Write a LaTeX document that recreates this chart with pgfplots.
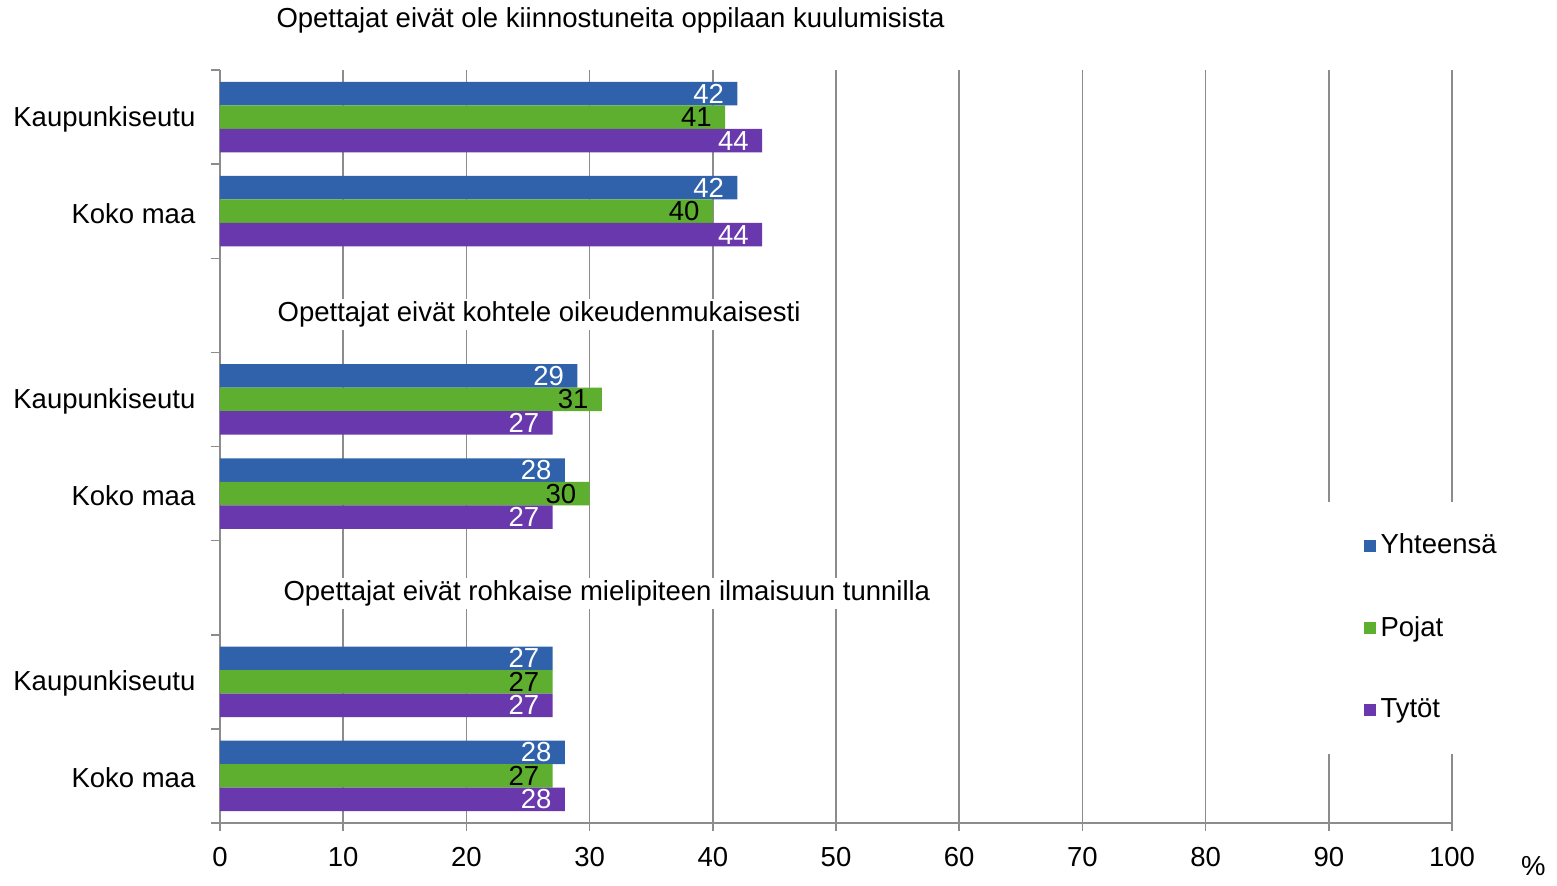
\documentclass[border=0pt]{standalone}
\usepackage{fontspec}
\setmainfont{Liberation Sans}
\usepackage{pgfplots}
\pgfplotsset{compat=1.18}

\definecolor{cBlue}{HTML}{2F62AB}
\definecolor{cGreen}{HTML}{5EAE2F}
\definecolor{cPurple}{HTML}{6A38AD}
\definecolor{cGrid}{HTML}{8C8C8C}

\begin{document}
\fontsize{11}{13}\selectfont
\begin{tikzpicture}
\begin{axis}[
  name=ax,
  scale only axis,
  width=492.8pt, height=301.2pt,
  xmin=0, xmax=100, ymin=-0.5, ymax=7.5,
  clip=false,
  xbar,
  bar width=0.25,
  axis x line*=bottom, axis y line*=left,
  axis line style={cGrid, line width=0.6pt},
  xtick={0,10,...,100},
  xmajorgrids,
  grid style={cGrid, line width=0.6pt},
  ytick={0,1,3,4,6,7},
  yticklabels={Koko maa, Kaupunkiseutu, Koko maa, Kaupunkiseutu, Koko maa, Kaupunkiseutu},
  minor ytick={-0.5,0.5,...,7.5},
  tick align=outside,
  major tick length=3pt,
  minor tick length=3.6pt,
  xtick style={cGrid, line width=0.6pt},
  minor y tick style={cGrid, line width=0.6pt},
  major y tick style={draw=none},
  yticklabel style={xshift=-3pt, yshift=-0.8pt},
  xticklabel style={yshift=-3pt},
  /pgf/number format/assume math mode=true,
  nodes near coords,
  every node near coord/.append style={anchor=east, xshift=-1.5pt},
  legend style={at={(rel axis cs:0.8953,0.4276)}, anchor=north west,
    draw=none, fill=white, row sep=19.4pt, inner xsep=16pt, inner ysep=10.8pt},
  legend cell align=left,
  legend image code/.code={\fill[#1] (-1.8pt,-2.4pt) rectangle (3pt,2.4pt);},
]
% Yhteensa
\addplot[fill=cBlue, draw=none, bar shift=0.25,
  every node near coord/.append style={text=white}] coordinates {
  (42,7) (42,6) (29,4) (28,3) (27,1) (28,0)
};
% Pojat
\addplot[fill=cGreen, draw=none, bar shift=0,
  every node near coord/.append style={text=black}] coordinates {
  (41,7) (40,6) (31,4) (30,3) (27,1) (27,0)
};
% Tytot
\addplot[fill=cPurple, draw=none, bar shift=-0.25,
  every node near coord/.append style={text=white}] coordinates {
  (44,7) (44,6) (27,4) (27,3) (27,1) (28,0)
};
\legend{Yhteensä, Pojat, Tytöt}

\node[fill=white, inner sep=1pt] at (axis cs:31.7,8.03) {Opettajat eivät ole kiinnostuneita oppilaan kuulumisista};
\node[fill=white, inner sep=1pt] at (axis cs:25.9,4.9) {Opettajat eivät kohtele oikeudenmukaisesti};
\node[fill=white, inner sep=1pt] at (axis cs:31.4,1.94) {Opettajat eivät rohkaise mielipiteen ilmaisuun tunnilla};
\node at (axis cs:106.6,-0.96) {\%};
\end{axis}
\path ([shift={(-88pt,-22pt)}]ax.south west) rectangle ([shift={(42pt,28pt)}]ax.north east);
\end{tikzpicture}
\end{document}
